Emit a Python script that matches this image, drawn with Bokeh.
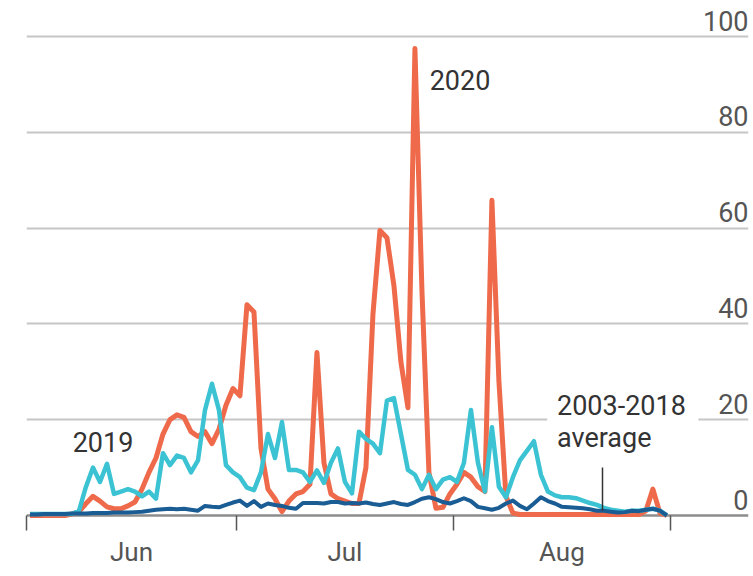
import numpy as np
from bokeh.plotting import figure
from bokeh.models import Range1d, LinearAxis, FixedTicker, Span, BoxAnnotation
from bokeh.core.properties import value
from bokeh.embed import file_html
from bokeh.resources import INLINE

# ---- data: daily values, 1 June .. 31 August ----
days = list(range(92))
y2020 = [0, 0, 0, 0, 0, 0, 0.3, 0.8, 2.5, 4,
         3, 1.8, 1.4, 1.4, 2, 2.8, 5.5, 9, 12, 17,
         20, 21, 20.5, 17.5, 16.5, 17.5, 15, 18, 23, 26.5,
         25, 44, 42.5, 14, 5.5, 3.5, 0.8, 3, 4.5, 5,
         6.5, 34, 11, 4.5, 3.5, 3, 2.5, 2.5, 10, 42,
         59.5, 58, 48, 32, 22.5, 97.5, 47, 9, 1.5, 1.7,
         4.5, 6.5, 9, 8, 6, 5, 65.8, 28, 4, 0.5,
         0.2, 0.2, 0.2, 0.2, 0.2, 0.2, 0.2, 0.2, 0.2, 0.2,
         0.2, 0.2, 0.2, 0.2, 0.2, 0.2, 0.2, 0.2, 1, 5.5,
         0.5, 0]
y2019 = [0.3, 0.3, 0.3, 0.3, 0.3, 0.3, 0.3, 1, 6, 10,
         7, 10.8, 4.5, 5, 5.5, 5, 4, 5, 3.5, 13,
         10.5, 12.5, 12, 9, 11.5, 22, 27.5, 22, 10.5, 9,
         8, 5.8, 5.3, 9, 17, 12, 19.5, 9.5, 9.5, 9,
         7, 9.4, 6.8, 11, 14, 7, 4.6, 17.5, 16, 15,
         13, 24, 24.5, 17, 9.5, 8.5, 5.5, 8.5, 5.5, 7.5,
         8, 7, 11, 22, 11, 5, 18.4, 6, 3.8, 8,
         11.5, 13.5, 15.5, 8.5, 5, 4.2, 3.8, 3.8, 3.6, 3.1,
         2.6, 2.2, 1.6, 1.2, 1, 0.8, 1, 1, 1.2, 1.4,
         1, 0]
y_avg = [0.2, 0.2, 0.3, 0.3, 0.3, 0.3, 0.4, 0.4, 0.4, 0.5,
         0.5, 0.5, 0.6, 0.6, 0.6, 0.7, 0.8, 1, 1.2, 1.3,
         1.4, 1.3, 1.4, 1.2, 1, 2, 1.8, 1.7, 2.2, 2.7,
         3.1, 2, 3, 1.8, 2.5, 2.2, 2, 1.6, 1.4, 2.6,
         2.6, 2.6, 2.5, 2.8, 2.8, 2.5, 2.6, 2.5, 2.7, 2.4,
         2.2, 2.5, 2.8, 2.4, 2.2, 2.8, 3.5, 3.8, 3.4, 2.8,
         2.5, 3, 3.6, 3, 1.8, 1.5, 1.2, 1.6, 2.5, 3.1,
         2, 1.3, 2.5, 3.8, 3, 2.5, 1.8, 1.7, 1.6, 1.5,
         1.3, 1, 1, 0.8, 0.6, 0.7, 1, 0.9, 1.2, 1.4,
         1, 0]

month_labels = ["Jun", "Jul", "Aug"]
month_starts = [0, 30, 61, 92]
y_ticks = [0, 20, 40, 60, 80, 100]

series_labels = ["2020", "2019", "2003-2018", "average"]
series_label_x = [57.6, 6.6, 75.8, 75.8]
series_label_y = [91.0, 15.4, 23.0, 16.1]

FONT = "Roboto"
ORANGE = "#EE6A4B"
CYAN = "#3BC3D3"
DARK = "#1A5C94"

x = np.array(days) + 0.5
mids = [(a + b) / 2 for a, b in zip(month_starts[:-1], month_starts[1:])]

X_END = 103.16
Y_START, Y_END = -0.84, 107.51

p = figure(width=753, height=576, output_backend="svg", toolbar_location=None,
           x_range=Range1d(0, X_END), y_range=Range1d(Y_START, Y_END),
           y_axis_location=None,
           min_border_left=26, min_border_right=5, min_border_top=0, min_border_bottom=57,
           outline_line_color=None, background_fill_color="white",
           border_fill_color="white")

# y labels sit above their gridlines at the right end
shift = 3.3
p.extra_y_ranges = {"lab": Range1d(Y_START - shift, Y_END - shift)}
yax = LinearAxis(y_range_name="lab", fixed_location=X_END,
                 ticker=FixedTicker(ticks=y_ticks),
                 axis_line_color=None, major_tick_line_color=None,
                 minor_tick_line_color=None, major_tick_out=0, major_tick_in=0,
                 major_label_standoff=0,
                 major_label_text_font=FONT, major_label_text_font_size="27px",
                 major_label_text_color="#555555")
p.add_layout(yax, "left")

xax = p.xaxis[0]
xax.ticker = FixedTicker(ticks=mids, minor_ticks=month_starts)
xax.major_label_overrides = {m: lab for m, lab in zip(mids, month_labels)}
xax.axis_line_color = None
xax.major_tick_line_color = None
xax.major_tick_out = 0
xax.major_tick_in = 0
xax.minor_tick_line_color = "#555555"
xax.minor_tick_line_width = 1.5
xax.minor_tick_out = 11
xax.minor_tick_in = 4
xax.major_label_standoff = 6
xax.major_label_text_font = FONT
xax.major_label_text_font_size = "26px"
xax.major_label_text_color = "#555555"

p.xgrid.visible = False
p.ygrid.ticker = FixedTicker(ticks=y_ticks[1:])
p.ygrid.grid_line_color = "#c6c6c6"
p.ygrid.grid_line_width = 2

p.add_layout(Span(location=0, dimension="width", line_color="#8c8c8c",
                  line_width=2.5, level="underlay"))
p.add_layout(BoxAnnotation(left=74.4, right=96.0, bottom=18.4, top=25.8,
                           fill_color="white", fill_alpha=1, line_color=None,
                           level="underlay"))

p.line(x, y2020, line_color=ORANGE, line_width=5, line_join="round")
p.line(x, y2019, line_color=CYAN, line_width=4.5, line_join="round")
p.line(x, y_avg, line_color=DARK, line_width=4, line_join="round")

p.segment(x0=[82.3], y0=[10], x1=[82.3], y1=[1], line_color="#333333", line_width=1.5)

p.text(x=series_label_x, y=series_label_y, text=series_labels,
       text_font=value(FONT), text_font_size="27px", text_baseline="alphabetic",
       text_align="left", text_color="#333333")

open("out.html", "w").write(file_html(p, INLINE))
